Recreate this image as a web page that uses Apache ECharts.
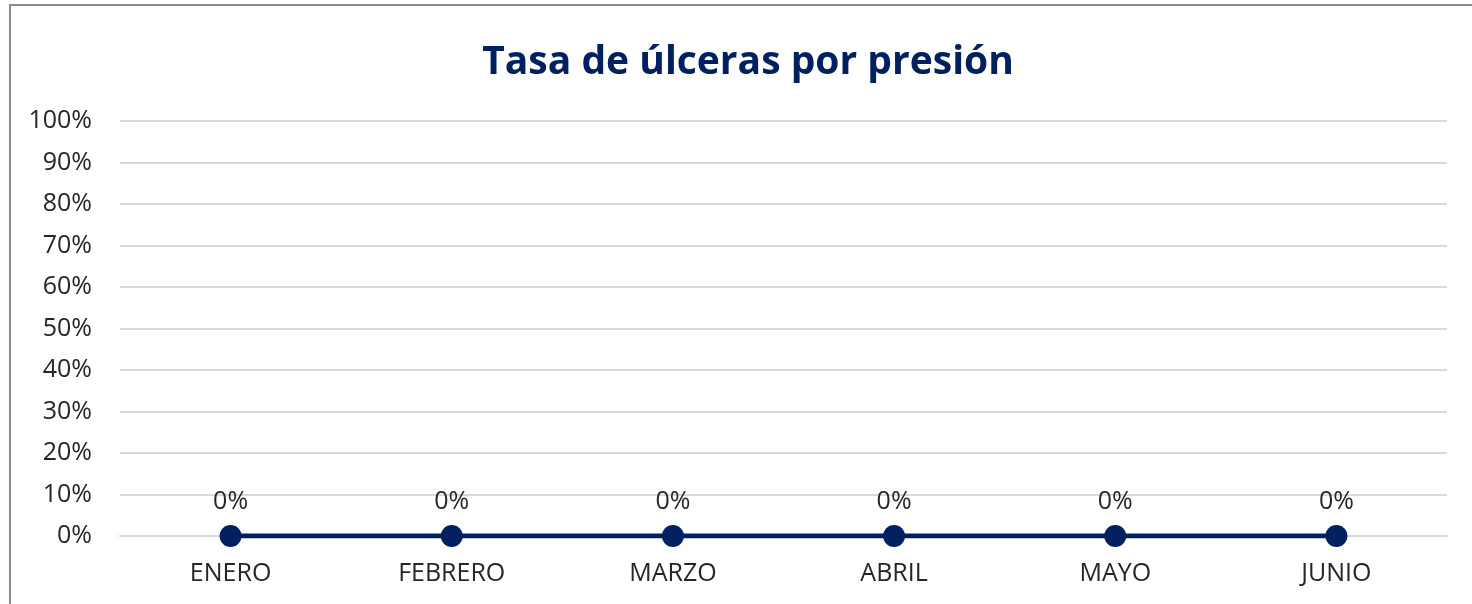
<!DOCTYPE html>
<html>
<head>
<meta charset="utf-8">
<script src="https://cdn.jsdelivr.net/npm/echarts@6/dist/echarts.min.js"></script>
<style>
    html, body { margin: 0; padding: 0; background: #fff; overflow: hidden; }
    #frame { position: absolute; left: 9px; top: 4px; width: 1500px; height: 640px; border: 2px solid #8c8c8c; box-sizing: border-box; }
    #chart { position: absolute; left: 0; top: 0; width: 1472px; height: 604px; }
</style>
</head>
<body>
<div id="frame"></div>
<div id="chart"></div>
<script>
    const months = ['ENERO', 'FEBRERO', 'MARZO', 'ABRIL', 'MAYO', 'JUNIO']
    const tasa = [0, 0, 0, 0, 0, 0]
    const yTicks = [0, 0.1, 0.2, 0.3, 0.4, 0.5, 0.6, 0.7, 0.8, 0.9, 1]

    const navy = '#002060'
    const textColor = '#262626'
    const font = 'Open Sans'

    const chart = echarts.init(document.getElementById('chart'))
    chart.setOption({
        animation: false,
        title: {
            text: 'Tasa de úlceras por presión',
            left: 743,
            top: 38,
            textAlign: 'center',
            textStyle: { color: navy, fontFamily: font, fontWeight: 'bold', fontSize: 39 }
        },
        grid: { left: 120, right: 25, top: 121, bottom: 68 },
        xAxis: {
            type: 'category',
            data: months,
            axisLine: { lineStyle: { color: '#d9d9d9', width: 2 } },
            axisTick: { show: false },
            axisLabel: { color: textColor, fontFamily: font, fontSize: 25, margin: 25 }
        },
        yAxis: {
            type: 'value',
            min: yTicks[0],
            max: yTicks[yTicks.length - 1],
            interval: 0.1,
            axisLine: { show: false },
            axisTick: { show: false },
            splitLine: { lineStyle: { color: '#d9d9d9', width: 2 } },
            axisLabel: {
                color: textColor, fontFamily: font, fontSize: 25, margin: 28,
                formatter: v => Math.round(v * 100) + '%'
            }
        },
        series: [
            {
                type: 'line',
                data: tasa,
                symbol: 'circle',
                symbolSize: 22,
                lineStyle: { color: navy, width: 5 },
                itemStyle: { color: navy },
                label: {
                    show: true,
                    position: 'top',
                    distance: 11,
                    color: textColor,
                    fontFamily: font,
                    fontSize: 25,
                    formatter: p => Math.round(p.value * 100) + '%'
                }
            }
        ]
    })
</script>
</body>
</html>
